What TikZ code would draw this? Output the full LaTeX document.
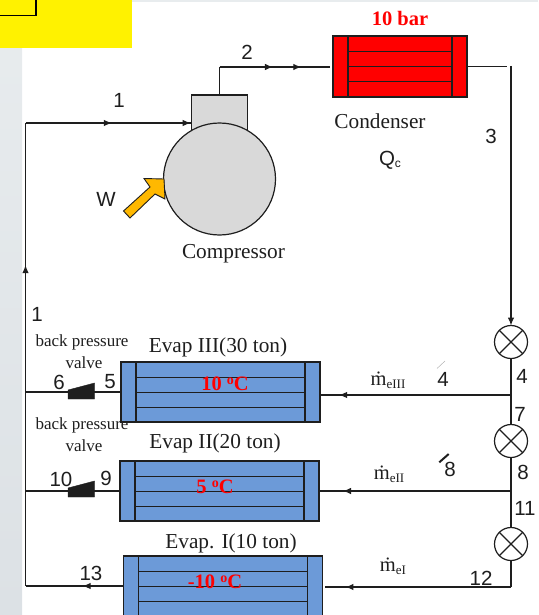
\documentclass[tikz,border=0pt]{standalone}
\usepackage{fontspec}
\setmainfont{Liberation Serif}
\setsansfont{Liberation Sans}
\usetikzlibrary{arrows.meta,calc,decorations.markings}
\definecolor{hxblue}{RGB}{108,154,216}
\definecolor{ink}{RGB}{30,30,30}
\definecolor{stripa}{RGB}{232,236,238}
\definecolor{stripb}{RGB}{220,225,229}
\definecolor{wcol}{RGB}{255,184,0}
\tikzset{
  pipe/.style={draw=ink,line width=1.1pt},
  flowmark/.style={postaction={decorate,decoration={markings,mark=at position #1 with {\arrow{Latex[length=8pt,width=6.5pt]}}}}},
  hxbox/.style={draw=ink,line width=1.3pt,fill=#1,minimum height=60pt,inner sep=0pt,outer sep=0pt},
  hxline/.style={draw=ink,line width=1.3pt},
  valvec/.style={circle,draw=ink,line width=1.2pt,fill=white,minimum size=33pt,inner sep=0pt,outer sep=0pt},
  bpv/.style={fill=ink,draw=ink,line width=.4pt},
  numlab/.style={font=\sffamily\fontsize{20.5}{22}\selectfont,text=ink,inner sep=0pt},
  caplab/.style={font=\fontsize{21.3}{23}\selectfont,text=ink,inner sep=0pt},
  smalllab/.style={font=\fontsize{17}{19}\selectfont,text=ink,inner sep=0pt},
  hotlab/.style={font=\bfseries\fontsize{20.5}{23}\selectfont,text=red,inner sep=0pt},
  flowlab/.style={font=\fontsize{20.5}{22}\selectfont,text=ink,inner sep=0pt},
}
\newcommand{\hxinner}[2]{% name, inset
  \draw[hxline] ($(#1.north west)+(#2,0)$) -- ($(#1.south west)+(#2,0)$);
  \draw[hxline] ($(#1.north east)+(-#2,0)$) -- ($(#1.south east)+(-#2,0)$);
  \foreach \k in {1,2,3}{
    \draw[hxline] ($(#1.north west)+(#2,\k*15.2)$) -- ($(#1.north east)+(-#2,\k*15.2)$);
  }
}
\newcommand{\vcross}[1]{\draw[line width=1.2pt,ink] (#1.45)--(#1.225) (#1.135)--(#1.315);}
\newcommand{\degsign}{\raisebox{6pt}{\fontsize{14}{14}\selectfont o}}
\begin{document}
\begin{tikzpicture}[x=1pt,y=-1pt]
\useasboundingbox (0,0) rectangle (538,615);
\clip (0,0) rectangle (538,615);
% backdrop
\shade[top color=stripa,bottom color=stripb] (0,0) rectangle (22,615);
\fill[stripa] (0,0) rectangle (538,2);
\fill[yellow] (0,0) rectangle (132,48);
\draw[black,line width=1.2pt] (-2,-2) rectangle (36,15.5);

% free points
\coordinate (cornerA) at (25.5,123);
\coordinate (cornerB) at (25.5,586);
\coordinate (j6) at (25.5,392);
\coordinate (j10) at (25.5,491);
\coordinate (up2) at (219.5,67);
\coordinate (end2) at (330,67);
\coordinate (out3) at (507,66.5);
\coordinate (top3) at (511,66);
\coordinate (j4) at (511,395);
\coordinate (j8) at (511,491);
\coordinate (cornerC) at (511,587);
\coordinate (in1) at (325,587);
\coordinate (in1e) at (191.5,123);

% compressor
\node[draw=ink,line width=1.2pt,fill=black!15,minimum width=56pt,minimum height=36pt,inner sep=0pt,outer sep=0pt] (head) at (219.5,113) {};
\node[circle,draw=ink,line width=1.2pt,fill=black!15,minimum size=112pt,inner sep=0pt,outer sep=0pt] (comp) at (219.5,179) {};
\filldraw[draw=ink,line width=.9pt,fill=wcol]
  (123.5,211) -- (130,218) -- (155,194) -- (165,199) -- (164,179) -- (144,178.5) -- (150,187) -- cycle;

% condenser
\node[hxbox=red,minimum width=134pt,minimum height=61pt] (cond) at (400,66.5) {};
\hxinner{cond}{15}

% evaporators
\node[hxbox=hxblue,minimum width=199pt] (evIII) at (220.5,392) {};
\hxinner{evIII}{15}
\node[hxbox=hxblue,minimum width=199pt] (evII) at (219.5,491) {};
\hxinner{evII}{15}
\node[hxbox=hxblue,minimum width=199pt] (evI) at (222.7,586) {};
\hxinner{evI}{15}

% valves
\node[valvec] (v1) at (511,342) {};
\node[valvec] (v2) at (511,441) {};
\node[valvec] (v3) at (511,544) {};
\vcross{v1}\vcross{v2}\vcross{v3}

% piping
\draw[pipe,flowmark=0.693] (cornerB) -- (cornerA);
\draw[pipe,flowmark=0.52,flowmark=0.995] (cornerA) -- (in1e);
\draw[pipe] (head.north) -- (up2);
\draw[pipe,flowmark=0.484,flowmark=0.74] (up2) -- (end2);
\draw[pipe] (cond.east) -- (out3);
\draw[pipe,-{Latex[length=8pt,width=6.5pt]}] (top3) -- (v1.north);
\draw[pipe] (v1.south) -- (j4) -- (v2.north);
\draw[pipe] (v2.south) -- (j8) -- (v3.north);
\draw[pipe] (v3.south) -- (cornerC);
\draw[pipe,flowmark=0.90] (j4) -- (evIII.east |- j4);
\draw[pipe,flowmark=0.875] (j8) -- (evII.east);
\draw[pipe,flowmark=0.89] (cornerC) -- (in1);
\draw[pipe] (evIII.west) -- (j6);
\draw[pipe] (evII.west) -- (j10);
\draw[pipe,flowmark=0.415] (evI.west) -- (cornerB);

% back pressure valves
\fill[bpv] (68,390) -- (94.5,383) -- (94.5,399) -- (68,399) -- cycle;
\fill[bpv] (68,488) -- (94.5,481) -- (94.5,497) -- (68,497) -- cycle;

% ticks
\draw[black!30,line width=.5pt] (437,368.5) -- (445,361);
\draw[ink,line width=2pt] (439.3,462.3) -- (448.7,454);

% numbers
\node[numlab] (n1) at (119,100) {1};
\node[numlab] (n2) at (247,52) {2};
\node[numlab] (n3) at (491,136) {3};
\node[numlab] (nW) at (106,199) {W};
\node[numlab] (n1b) at (37,314) {1};
\node[numlab] (n6) at (59,382) {6};
\node[numlab] (n5) at (110,382) {5};
\node[numlab] (n10) at (61,479) {10};
\node[numlab] (n9) at (106,478) {9};
\node[numlab] (n13) at (91,573) {13};
\node[numlab] (n4a) at (443,379) {4};
\node[numlab] (n8a) at (450,469) {8};
\node[numlab] (n4b) at (522,376) {4};
\node[numlab] (n7) at (520,414) {7};
\node[numlab] (n8b) at (523,472) {8};
\node[numlab] (n11) at (525,508) {11};
\node[numlab] (n12) at (481,578) {12};
\node[numlab] (nQ) at (390,160) {Q\raisebox{-2.5pt}{\fontsize{12}{12}\selectfont c}};

% captions
\node[caplab] (tComp) at (233.5,253.5) {Compressor};
\node[caplab] (tCond) at (380,121) {Condenser};
\node[caplab] (tIII) at (218,347.5) {Evap III(30 ton)};
\node[caplab] (tII) at (215,443.5) {Evap II(20 ton)};
\node[caplab] (tI) at (231,543.5) {Evap. I(10 ton)};
\node[smalllab] (bp1) at (82,342.5) {back pressure};
\node[smalllab] (bv1) at (84,363) {valve};
\node[smalllab] (bp2) at (82,425.5) {back pressure};
\node[smalllab] (bv2) at (84,446) {valve};

% hot labels
\node[hotlab] (h0) at (400,18) {10 bar};
\node[hotlab] (h1) at (225,384) {10 \degsign C};
\node[hotlab] (h2) at (215,487) {5 \degsign C};
\node[hotlab] (h3) at (215,582) {-10 \degsign C};

% flow labels
\node[flowlab] (m3) at (388,380) {\.m\raisebox{-3pt}{\fontsize{13}{13}\selectfont eIII}};
\node[flowlab] (m2) at (389,474) {\.m\raisebox{-3pt}{\fontsize{13}{13}\selectfont eII}};
\node[flowlab] (m1) at (393,566) {\.m\raisebox{-3pt}{\fontsize{13}{13}\selectfont eI}};
\end{tikzpicture}
\end{document}
